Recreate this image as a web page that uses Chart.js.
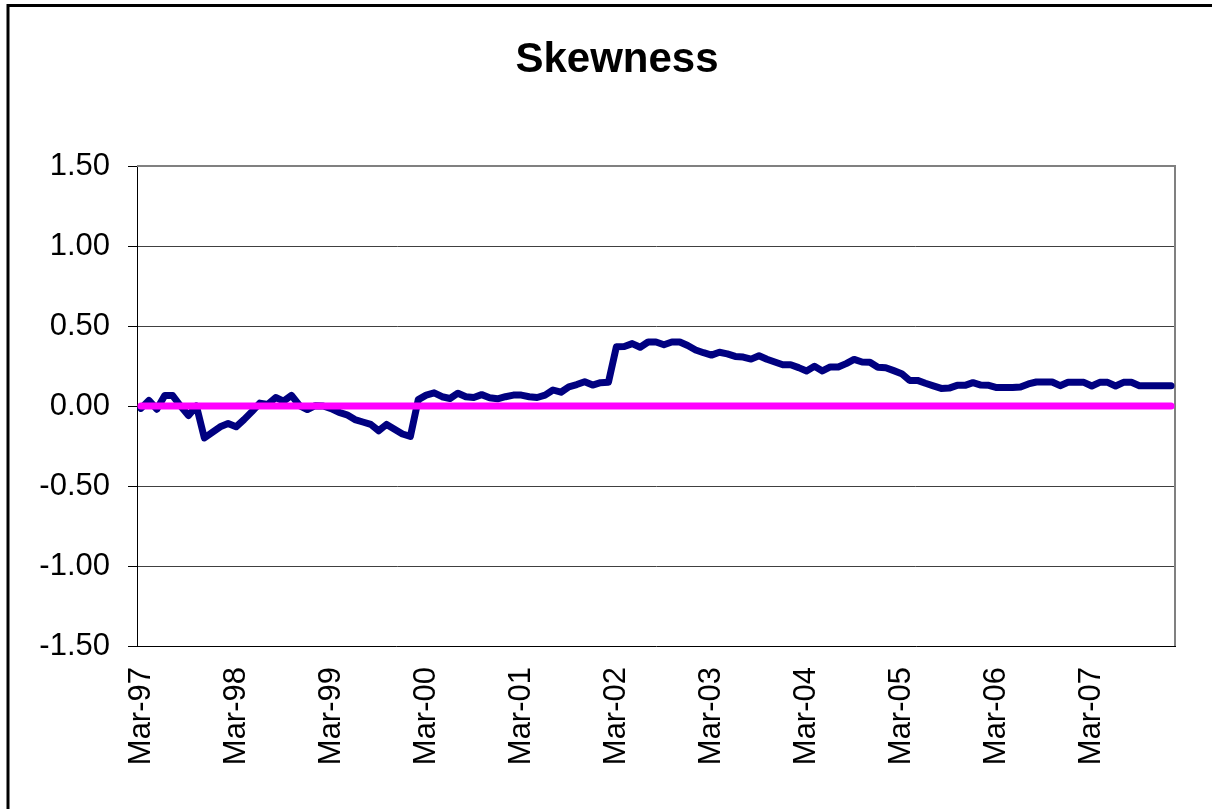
<!DOCTYPE html>
<html><head><meta charset="utf-8">
<script src="https://cdn.jsdelivr.net/npm/chart.js@4.4.0/dist/chart.umd.min.js"></script>
<style>html,body{margin:0;padding:0;background:#fff;}canvas{display:block;}</style>
</head><body>
<canvas id="c" width="1212" height="809"></canvas>
<script>
const months = [
  'Mar-97','Apr-97','May-97','Jun-97','Jul-97','Aug-97','Sep-97','Oct-97','Nov-97','Dec-97',
  'Jan-98','Feb-98','Mar-98','Apr-98','May-98','Jun-98','Jul-98','Aug-98','Sep-98','Oct-98','Nov-98','Dec-98',
  'Jan-99','Feb-99','Mar-99','Apr-99','May-99','Jun-99','Jul-99','Aug-99','Sep-99','Oct-99','Nov-99','Dec-99',
  'Jan-00','Feb-00','Mar-00','Apr-00','May-00','Jun-00','Jul-00','Aug-00','Sep-00','Oct-00','Nov-00','Dec-00',
  'Jan-01','Feb-01','Mar-01','Apr-01','May-01','Jun-01','Jul-01','Aug-01','Sep-01','Oct-01','Nov-01','Dec-01',
  'Jan-02','Feb-02','Mar-02','Apr-02','May-02','Jun-02','Jul-02','Aug-02','Sep-02','Oct-02','Nov-02','Dec-02',
  'Jan-03','Feb-03','Mar-03','Apr-03','May-03','Jun-03','Jul-03','Aug-03','Sep-03','Oct-03','Nov-03','Dec-03',
  'Jan-04','Feb-04','Mar-04','Apr-04','May-04','Jun-04','Jul-04','Aug-04','Sep-04','Oct-04','Nov-04','Dec-04',
  'Jan-05','Feb-05','Mar-05','Apr-05','May-05','Jun-05','Jul-05','Aug-05','Sep-05','Oct-05','Nov-05','Dec-05',
  'Jan-06','Feb-06','Mar-06','Apr-06','May-06','Jun-06','Jul-06','Aug-06','Sep-06','Oct-06','Nov-06','Dec-06',
  'Jan-07','Feb-07','Mar-07','Apr-07','May-07','Jun-07','Jul-07','Aug-07','Sep-07','Oct-07','Nov-07','Dec-07',
  'Jan-08'
];

const skewness = [
  -0.015, 0.035, -0.02, 0.065, 0.065, 0.0, -0.06, 0.0, -0.20, -0.165,
  -0.13, -0.11, -0.13, -0.085, -0.035, 0.018, 0.01, 0.053, 0.03, 0.066,
  0.003, -0.022, 0.002, 0.0, -0.016, -0.04, -0.055, -0.085, -0.10, -0.115,
  -0.155, -0.115, -0.145, -0.175, -0.19, 0.04, 0.068, 0.082, 0.058, 0.047,
  0.08, 0.058, 0.053, 0.071, 0.052, 0.045, 0.058, 0.068, 0.068, 0.058,
  0.053, 0.068, 0.10, 0.086, 0.12, 0.134, 0.152, 0.131, 0.146, 0.148,
  0.37, 0.372, 0.39, 0.367, 0.40, 0.40, 0.383, 0.40, 0.40, 0.378,
  0.35, 0.333, 0.318, 0.336, 0.326, 0.31, 0.306, 0.293, 0.314, 0.292,
  0.275, 0.258, 0.258, 0.24, 0.219, 0.248, 0.219, 0.244, 0.244, 0.265,
  0.291, 0.275, 0.273, 0.242, 0.239, 0.221, 0.202, 0.16, 0.16, 0.142,
  0.126, 0.11, 0.112, 0.129, 0.129, 0.146, 0.131, 0.129, 0.115, 0.115,
  0.115, 0.119, 0.138, 0.15, 0.15, 0.15, 0.127, 0.148, 0.148, 0.148,
  0.125, 0.148, 0.148, 0.125, 0.148, 0.148, 0.127, 0.127, 0.127, 0.127,
  0.127
];

const baselineCategories = ['Mar-97', 'Jan-08'];
const baselineValues = [0, 0];

const yMin = -1.5, yMax = 1.5, yStep = 0.5;
const labelEvery = 12;

const FONT = '"Liberation Sans", Arial, sans-serif';

const framePlugin = {
  id: 'frame',
  beforeDatasetsDraw(chart) {
    const {ctx, chartArea: a} = chart;
    ctx.save();
    ctx.strokeStyle = '#808080';
    ctx.lineWidth = 2;
    ctx.beginPath();
    ctx.moveTo(a.left, a.top);
    ctx.lineTo(a.right, a.top);
    ctx.lineTo(a.right, a.bottom);
    ctx.stroke();
    ctx.restore();
  },
  afterDraw(chart) {
    const ctx = chart.ctx;
    ctx.save();
    ctx.strokeStyle = '#000';
    ctx.lineWidth = 3;
    ctx.beginPath();
    ctx.moveTo(8, 830);
    ctx.lineTo(8, 5.5);
    ctx.lineTo(1230, 5.5);
    ctx.stroke();
    ctx.restore();
  }
};

new Chart(document.getElementById('c'), {
  type: 'line',
  data: {
    labels: months,
    datasets: [
      {
        label: 'Zero',
        data: baselineCategories.map((c, i) => ({x: c, y: baselineValues[i]})),
        borderColor: '#FF00FF',
        borderWidth: 7,
        pointRadius: 0,
        borderCapStyle: 'round',
        order: 0
      },
      {
        label: 'Skewness',
        data: skewness,
        borderColor: '#000080',
        borderWidth: 7,
        pointRadius: 0,
        tension: 0,
        borderJoinStyle: 'round',
        borderCapStyle: 'round',
        order: 1
      }
    ]
  },
  options: {
    responsive: false,
    devicePixelRatio: 1,
    animation: false,
    layout: {padding: {top: 0, right: 0, bottom: 0, left: 22}},
    plugins: {
      legend: {display: false},
      tooltip: {enabled: false},
      title: {
        display: true,
        text: 'Skewness',
        color: '#000',
        font: {family: FONT, size: 42, weight: 'bold', lineHeight: 1.2},
        padding: {top: 35, bottom: 80.6}
      }
    },
    scales: {
      x: {
        type: 'category',
        offset: true,
        afterFit(scale) { scale.height = 163; },
        grid: {
          offset: true,
          drawOnChartArea: false,
          drawTicks: true,
          tickLength: 9,
          color: ctx => (ctx.index % labelEvery === 0 ? '#000' : 'rgba(0,0,0,0)'),
          lineWidth: 1
        },
        border: {display: true, color: '#000', width: 1},
        ticks: {
          autoSkip: false,
          maxRotation: 90,
          minRotation: 90,
          padding: 12,
          color: '#000',
          font: {family: FONT, size: 31},
          callback: function (value, index) {
            return index % labelEvery === 0 ? this.getLabelForValue(value) : null;
          }
        }
      },
      y: {
        min: yMin,
        max: yMax,
        afterFit(scale) { scale.width = 115; },
        grid: {
          drawTicks: true,
          tickLength: 9,
          color: ctx => (ctx.tick && (ctx.tick.value === yMax || ctx.tick.value === yMin) ? 'rgba(0,0,0,0)' : '#404040'),
          tickColor: '#000',
          lineWidth: 1
        },
        border: {display: true, color: '#000', width: 1},
        ticks: {
          stepSize: yStep,
          padding: 18,
          color: '#000',
          font: {family: FONT, size: 31},
          callback: v => Number(v).toFixed(2)
        }
      },
      yRight: {
        type: 'linear',
        position: 'right',
        display: true,
        min: yMin,
        max: yMax,
        afterFit(scale) { scale.width = 37; },
        grid: {display: false, drawOnChartArea: false},
        border: {display: false},
        ticks: {display: false}
      }
    }
  },
  plugins: [framePlugin]
});
</script>
</body></html>
